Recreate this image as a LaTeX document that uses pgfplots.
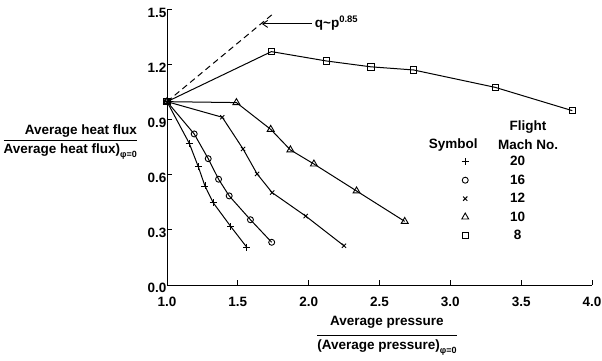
\documentclass[border=0pt]{standalone}
\usepackage{fontspec}
\setmainfont{Liberation Sans}
\usepackage{pgfplots}
\pgfplotsset{compat=1.18}
\usetikzlibrary{arrows.meta}
\newcommand{\F}{\fontsize{13.5bp}{16bp}\selectfont\bfseries}
\begin{document}
\begin{tikzpicture}[font=\F]
\useasboundingbox (-167bp,-76bp) rectangle (435bp,285bp);
\begin{axis}[
  at={(0,0)}, anchor=south west,
  scale only axis, width=425bp, height=275bp,
  xmin=1, xmax=4, ymin=0, ymax=1.5,
  axis lines=left, axis line style={-, line width=1bp},
  tick align=inside, major tick length=5bp,
  tick style={line width=1bp, black},
  xtick={1,1.5,2,2.5,3,3.5,4},
  ytick={0,0.3,0.6,0.9,1.2,1.5},
  xticklabel style={font=\F, yshift=-9bp},
  yticklabel style={font=\F, yshift=-3bp, xshift=3bp},
  /pgf/number format/.cd, fixed, fixed zerofill, precision=1, assume math mode=true,
  /pgfplots/.cd,
  every axis plot/.append style={black, line width=1bp, mark options={solid, fill=white, line width=0.9bp}},
  legend style={draw=none, fill=none, at={(axis cs:3.058,0.722)}, anchor=north west,
    font=\F, row sep=4.5bp, column sep=40bp,
    nodes={inner sep=1.5bp}},
  legend cell align=center,
  legend image code/.code={\draw[#1] plot coordinates {(0.3cm,0cm)};},
]
% dashed reference line q ~ p^0.85
\addplot[dash pattern=on 6bp off 4bp, forget plot] coordinates {(1,1) (1.753,1.482)};
% Mach 20 (+)
\addplot[mark=+, mark size=3.5bp, forget plot] coordinates {
(1,1) (1.157,0.773) (1.221,0.645) (1.268,0.540) (1.326,0.449) (1.451,0.318) (1.563,0.206)};
% Mach 16 (o)
\addplot[mark=o, mark size=3bp, forget plot] coordinates {
(1,1) (1.192,0.824) (1.291,0.689) (1.364,0.577) (1.439,0.486) (1.589,0.356) (1.739,0.233)};
% Mach 12 (x)
\addplot[mark=x, mark size=3bp, forget plot] coordinates {
(1,1) (1.390,0.915) (1.537,0.742) (1.636,0.606) (1.742,0.504) (1.979,0.376) (2.249,0.214)};
% Mach 10 (triangle)
\addplot[mark=triangle, mark size=4bp, forget plot] coordinates {
(1,1) (1.490,0.995) (1.732,0.849) (1.871,0.737) (2.037,0.660) (2.338,0.513) (2.678,0.347)};
% Mach 8 (square)
\addplot[mark=square, mark size=3.2bp, forget plot] coordinates {
(1,1) (1.737,1.273) (2.125,1.222) (2.440,1.190) (2.740,1.173) (3.317,1.078) (3.861,0.951)};
% annotation arrow with label
\addplot[line width=0.9bp, -{Straight Barb[length=5bp, width=7bp]}, forget plot]
  coordinates {(2.02,1.424) (1.67,1.424)}
  node[pos=0, anchor=west, inner sep=1bp, xshift=2bp, yshift=1bp] {q\textasciitilde p\textsuperscript{0.85}};
% legend
\addlegendimage{only marks, mark=+, mark size=3.5bp}
\addlegendentry{20}
\addlegendimage{only marks, mark=o, mark size=3bp}
\addlegendentry{16}
\addlegendimage{only marks, mark=x, mark size=3bp}
\addlegendentry{12}
\addlegendimage{only marks, mark=triangle, mark size=4bp}
\addlegendentry{10}
\addlegendimage{only marks, mark=square, mark size=3.2bp}
\addlegendentry{8}
% legend headers
\node at (axis cs:3.021,0.764) {Symbol};
\node at (axis cs:3.549,0.764) {Mach No.};
\node at (axis cs:3.549,0.862) {Flight};
\end{axis}
% y label
\node[anchor=east, inner sep=0pt] at (-30bp,144bp) {%
  \begin{tabular}{@{}r@{}}Average heat flux\\[1bp]\hline\rule{0pt}{13bp}Average heat flux)\raisebox{-0.5ex}{\fontsize{9bp}{10bp}\selectfont φ=0}\end{tabular}};
% x label
\node[inner sep=0pt] at (220bp,-50bp) {%
  \begin{tabular}{@{}c@{}}Average pressure\\[4bp]\hline\rule{0pt}{15bp}(Average pressure)\raisebox{-0.5ex}{\fontsize{9bp}{10bp}\selectfont φ=0}\end{tabular}};
\end{tikzpicture}
\end{document}
